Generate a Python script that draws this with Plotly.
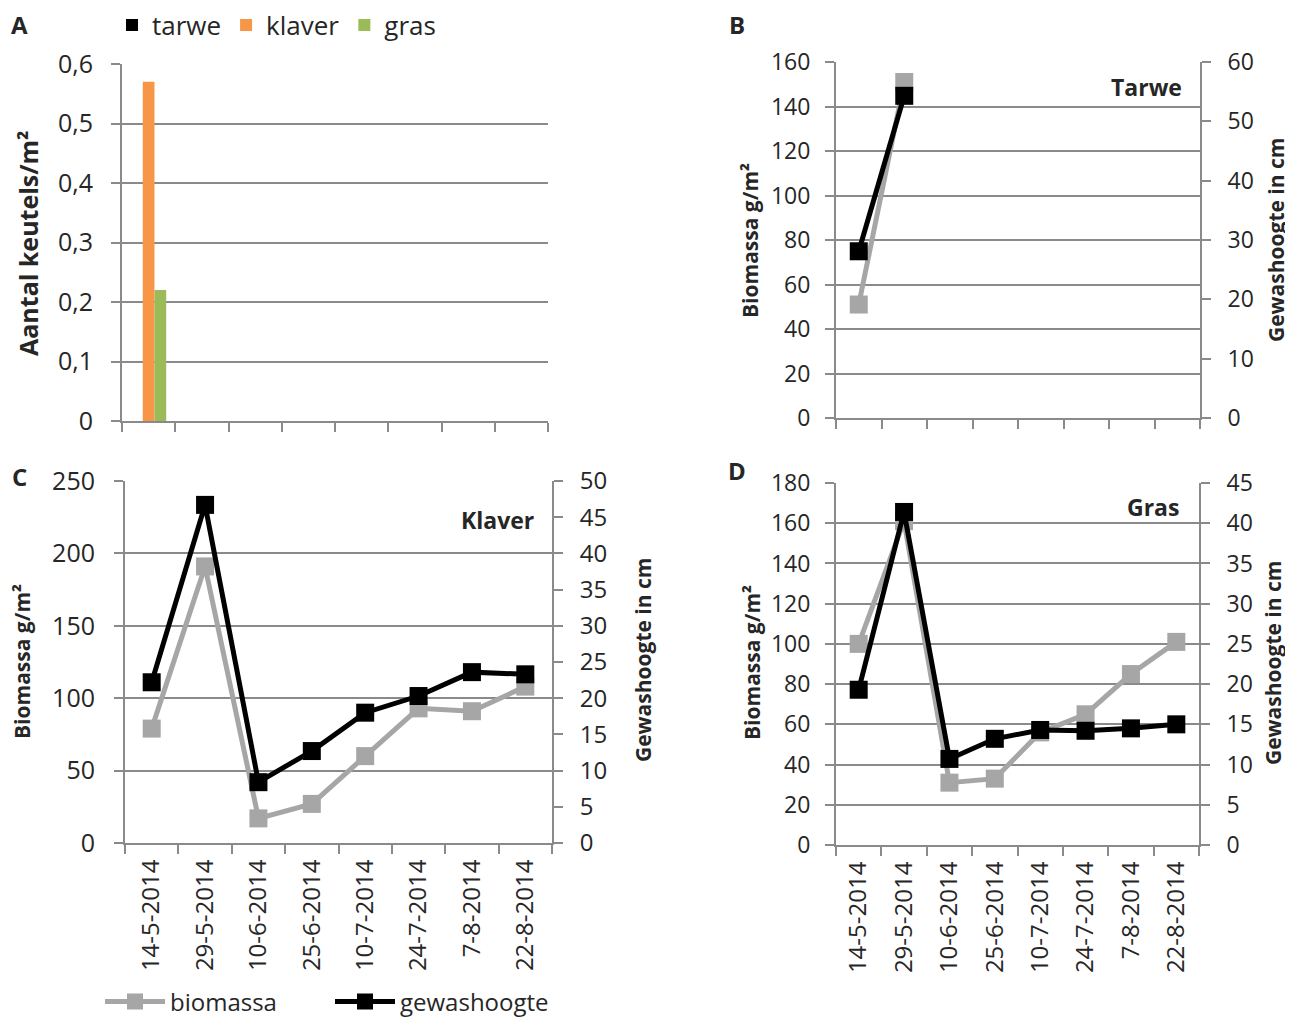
import plotly.graph_objects as go

# ---------------- data ----------------
dates = ["14-5-2014", "29-5-2014", "10-6-2014", "25-6-2014",
         "10-7-2014", "24-7-2014", "7-8-2014", "22-8-2014"]

keutels_tarwe = [0, None, None, None, None, None, None, None]
keutels_klaver = [0.57, None, None, None, None, None, None, None]
keutels_gras = [0.22, None, None, None, None, None, None, None]

tarwe_biomassa = [51, 151, None, None, None, None, None, None]
tarwe_hoogte = [28.1, 54.3, None, None, None, None, None, None]

klaver_biomassa = [79, 191, 17, 27, 60, 93, 91, 108]
klaver_hoogte = [22.2, 46.7, 8.4, 12.7, 18.0, 20.3, 23.6, 23.3]

gras_biomassa = [100, 161, 31, 33, 56, 65, 85, 101]
gras_hoogte = [19.3, 41.4, 10.7, 13.2, 14.3, 14.2, 14.5, 15.0]

# ---------------- styling ----------------
OFF = 8                      # default page body margin
W, H = 1293 - OFF, 1021 - OFF
FONT = "Open Sans"
TXT = "#262626"
GRID = "#8a8a8a"
GREY = "#a6a6a6"
BLACK = "#000000"
ORANGE = "#f79646"
GREEN = "#9bbb59"


def fx(px):
    return (px - OFF) / W


def fy(py):
    return 1 - (py - OFF) / H


fig = go.Figure()

# Panel A bars
for name, vals, col in [("tarwe", keutels_tarwe, BLACK),
                        ("klaver", keutels_klaver, ORANGE),
                        ("gras", keutels_gras, GREEN)]:
    fig.add_trace(go.Bar(x=dates, y=vals, name=name, marker=dict(color=col, line=dict(width=0)),
                         xaxis="x", yaxis="y", legend="legend"))

# line panels
panels = [
    ("x2", "y2", "y3", tarwe_biomassa, tarwe_hoogte, False),
    ("x3", "y4", "y5", klaver_biomassa, klaver_hoogte, True),
    ("x4", "y6", "y7", gras_biomassa, gras_hoogte, False),
]
for xa, yl, yr, bio, hoo, show in panels:
    fig.add_trace(go.Scatter(x=dates, y=bio, name="biomassa", mode="lines+markers",
                             line=dict(color=GREY, width=5),
                             marker=dict(symbol="square", size=18, color=GREY),
                             xaxis=xa, yaxis=yl, showlegend=show, legend="legend2"))
    fig.add_trace(go.Scatter(x=dates, y=hoo, name="gewashoogte", mode="lines+markers",
                             line=dict(color=BLACK, width=5),
                             marker=dict(symbol="square", size=18, color=BLACK),
                             xaxis=xa, yaxis=yr, showlegend=show, legend="legend2"))


def xaxis(x0, x1, anchor, labels):
    return dict(domain=[fx(x0), fx(x1)], anchor=anchor, type="category",
                categoryorder="array", categoryarray=dates, range=[-0.5, 7.5],
                tickson="boundaries", ticks="outside", ticklen=9, tickwidth=2,
                tickcolor=GRID, showline=True, linecolor=GRID, linewidth=2,
                showgrid=False, zeroline=False, showticklabels=labels,
                tickangle=-90, ticklabelstandoff=5,
                tickfont=dict(family=FONT, size=24, color=TXT),
                automargin=False, fixedrange=True)


def yaxis(y0, y1, anchor, rng, dt, fs, so, side="left", overlay=None, grid=True):
    d = dict(anchor=anchor, range=rng, dtick=dt, tick0=0, side=side,
             showgrid=grid, gridcolor=GRID, gridwidth=2, zeroline=False,
             showline=True, linecolor=GRID, linewidth=2,
             ticks="outside", ticklen=9, tickwidth=2, tickcolor=GRID,
             ticklabelstandoff=so, automargin=False,
             tickfont=dict(family=FONT, size=fs, color=TXT), fixedrange=True)
    if overlay:
        d["overlaying"] = overlay
    else:
        d["domain"] = [fy(y1), fy(y0)]
    return d


layout = dict(
    width=W, height=H,
    margin=dict(l=0, r=0, t=0, b=0, autoexpand=False),
    paper_bgcolor="white", plot_bgcolor="white",
    separators=", ",
    font=dict(family=FONT, color=TXT),
    barmode="group", bargap=0.34, bargroupgap=0,
    xaxis=xaxis(122, 548, "y", False),
    yaxis=yaxis(64, 421, "x", [0, 0.6], 0.1, 25, 13),
    xaxis2=xaxis(836, 1200, "y2", False),
    yaxis2=yaxis(62, 418, "x2", [0, 160], 20, 23, 10),
    yaxis3=yaxis(62, 418, "x2", [0, 60], 10, 23, 12, side="right", overlay="y2", grid=False),
    xaxis3=xaxis(125, 552, "y4", True),
    yaxis4=yaxis(481, 843, "x3", [0, 250], 50, 25, 14),
    yaxis5=yaxis(481, 843, "x3", [0, 50], 5, 24, 12, side="right", overlay="y4", grid=False),
    xaxis4=xaxis(836, 1199, "y6", True),
    yaxis6=yaxis(483, 845, "x4", [0, 180], 20, 23, 10),
    yaxis7=yaxis(483, 845, "x4", [0, 45], 5, 23, 12, side="right", overlay="y6", grid=False),
    legend=dict(orientation="h", x=fx(112), xanchor="left", y=fy(25), yanchor="middle",
                font=dict(family=FONT, size=26, color=TXT), bgcolor="rgba(0,0,0,0)",
                itemwidth=30, itemclick=False, itemdoubleclick=False),
    legend2=dict(orientation="h", x=fx(100), xanchor="left", y=fy(1002), yanchor="middle",
                 font=dict(family=FONT, size=24, color=TXT), bgcolor="rgba(0,0,0,0)",
                 itemwidth=60, entrywidth=155, entrywidthmode="pixels",
                 itemclick=False, itemdoubleclick=False),
)
fig.update_layout(**layout)

ann = []
# panel letters
for letter, x, y in [("A", 19, 24), ("B", 737, 24), ("C", 19, 476), ("D", 737, 470)]:
    ann.append(dict(text=f"<b>{letter}</b>", x=fx(x), y=fy(y), xref="paper", yref="paper",
                    xanchor="center", yanchor="middle", showarrow=False,
                    font=dict(family=FONT, size=24, color=TXT)))
# panel names
for name, x, y in [("Tarwe", 1184, 87), ("Klaver", 536, 520), ("Gras", 1181, 507)]:
    ann.append(dict(text=f"<b>{name}</b>", x=fx(x), y=fy(y), xref="paper", yref="paper",
                    xanchor="right", yanchor="middle", showarrow=False,
                    font=dict(family=FONT, size=23, color=TXT)))
# axis titles
for text, x, y, size in [("Aantal keutels/m²", 28, 243, 25),
                         ("Biomassa g/m²", 750, 240, 21),
                         ("Gewashoogte in cm", 1276, 240, 21),
                         ("Biomassa g/m²", 22, 662, 21),
                         ("Gewashoogte in cm", 643, 660, 21),
                         ("Biomassa g/m²", 752, 663, 21),
                         ("Gewashoogte in cm", 1273, 663, 21)]:
    ann.append(dict(text=f"<b>{text}</b>", x=fx(x), y=fy(y), xref="paper", yref="paper",
                    xanchor="center", yanchor="middle", textangle=-90, showarrow=False,
                    font=dict(family=FONT, size=size, color=TXT)))
fig.update_layout(annotations=ann)

fig.write_html("out.html")
